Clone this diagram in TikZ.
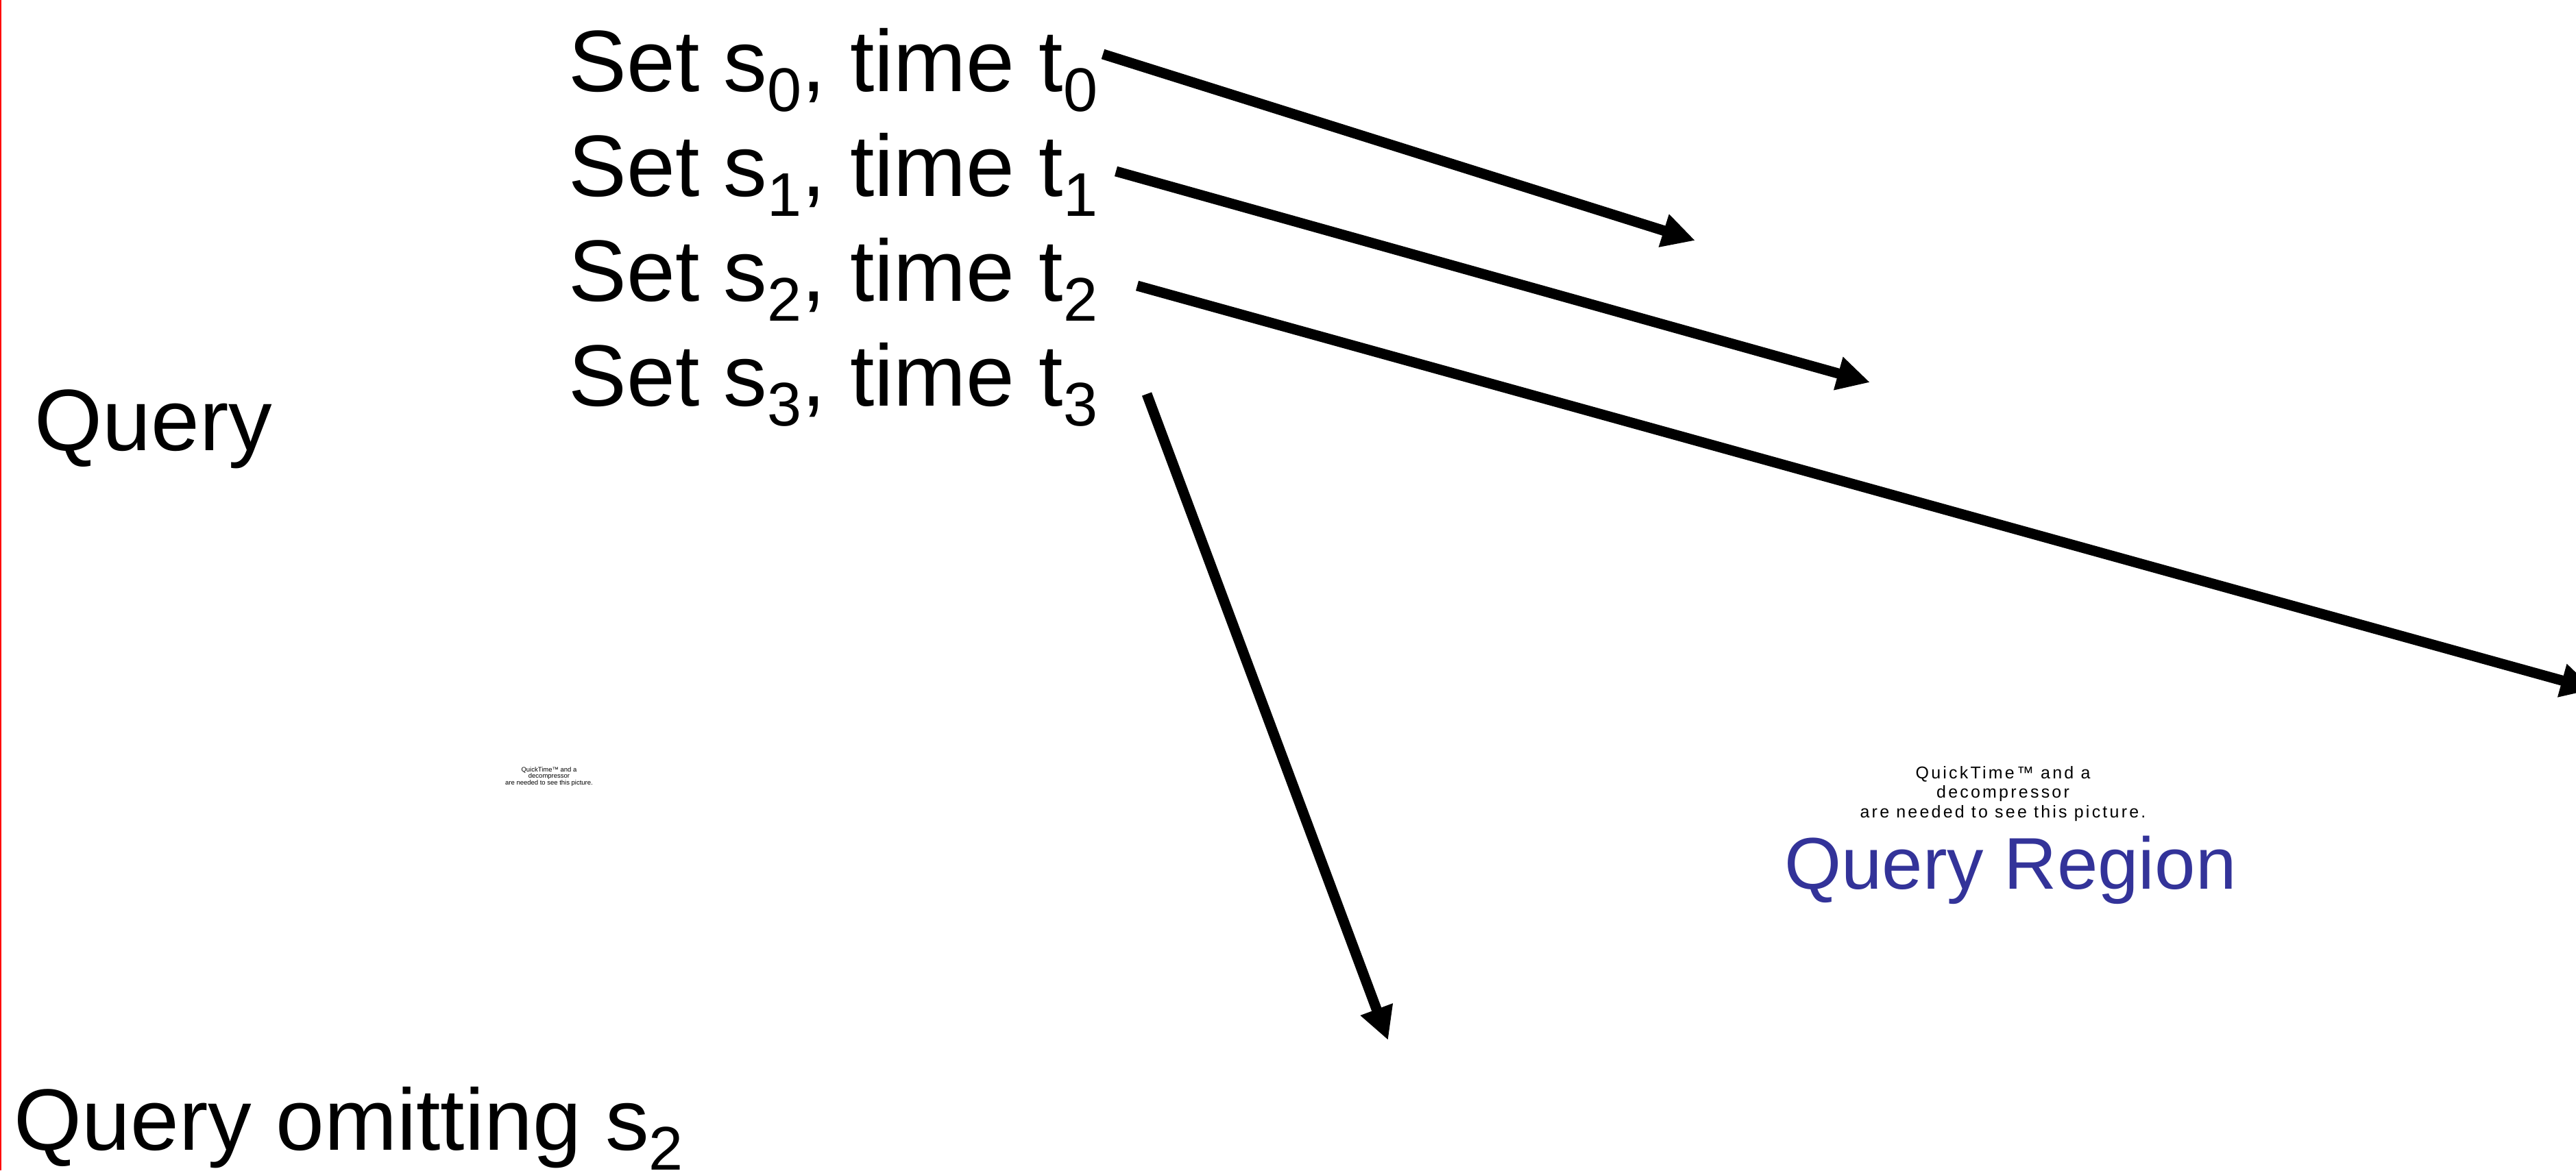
\documentclass[tikz,border=0pt]{standalone}
\usepackage{fontspec}
\setmainfont{Liberation Sans}
\usepackage{xcolor}
\usepackage{tikz}
\usetikzlibrary{arrows.meta}

\definecolor{regionblue}{HTML}{333399}
\newcommand\low[1]{\raisebox{-8.3pt}{\fontsize{25.6pt}{30pt}\selectfont #1}}

\tikzset{
  big/.style={font=\fontsize{36.2pt}{44pt}\selectfont, inner sep=0pt, anchor=base west},
  arr/.style={line width=0.15cm, -{Triangle[length=0.48cm,width=0.47cm]}},
}

\begin{document}
\begin{tikzpicture}
\useasboundingbox (0,0) rectangle (37.58,-17.08);
\clip (0,0) rectangle (37.58,-17.08);
\draw[red, line width=0.4pt] (0.01,0) -- (0.01,-17.08);
% labels
\foreach \i in {0,...,3}
  \node[big] (set\i) at (8.29,{-1.33-1.53*\i}) {Set s\low{\i}, time t\low{\i}};
\node[big] (query) at (0.50,-6.57) {Query};
\node[big] (omit) at (0.20,-16.78) {Query omitting s\low{2}};
\node[font=\fontsize{30.4pt}{36pt}\selectfont, text=regionblue, inner sep=0pt, anchor=base] (region) at (29.33,-12.97) {Query Region};
% placeholder texts, base = last line
\node[font=\addfontfeature{LetterSpace=13}\fontsize{7.1pt}{8pt}\selectfont, align=center, inner sep=0pt, anchor=base] (qtbig) at (29.22,-11.93) {QuickTime™ and a\\decompressor\\are needed to see this picture.};
\node[font=\fontsize{2.7pt}{2.6pt}\selectfont, align=center, inner sep=0pt, anchor=base] (qtsmall) at (8.01,-11.45) {QuickTime™ and a\\decompressor\\are needed to see this picture.};
% arrows
\coordinate (a0) at (16.09,-0.79);
\coordinate (b0) at (24.73,-3.51);
\coordinate (a1) at (16.28,-2.50);
\coordinate (b1) at (27.28,-5.58);
\coordinate (a2) at (16.59,-4.17);
\coordinate (b2) at (37.84,-10.06);
\coordinate (a3) at (16.73,-5.75);
\coordinate (b3) at (20.25,-15.18);
\draw[arr] (a0) -- (b0);
\draw[arr] (a1) -- (b1);
\draw[arr] (a2) -- (b2);
\draw[arr] (a3) -- (b3);
\end{tikzpicture}
\end{document}
